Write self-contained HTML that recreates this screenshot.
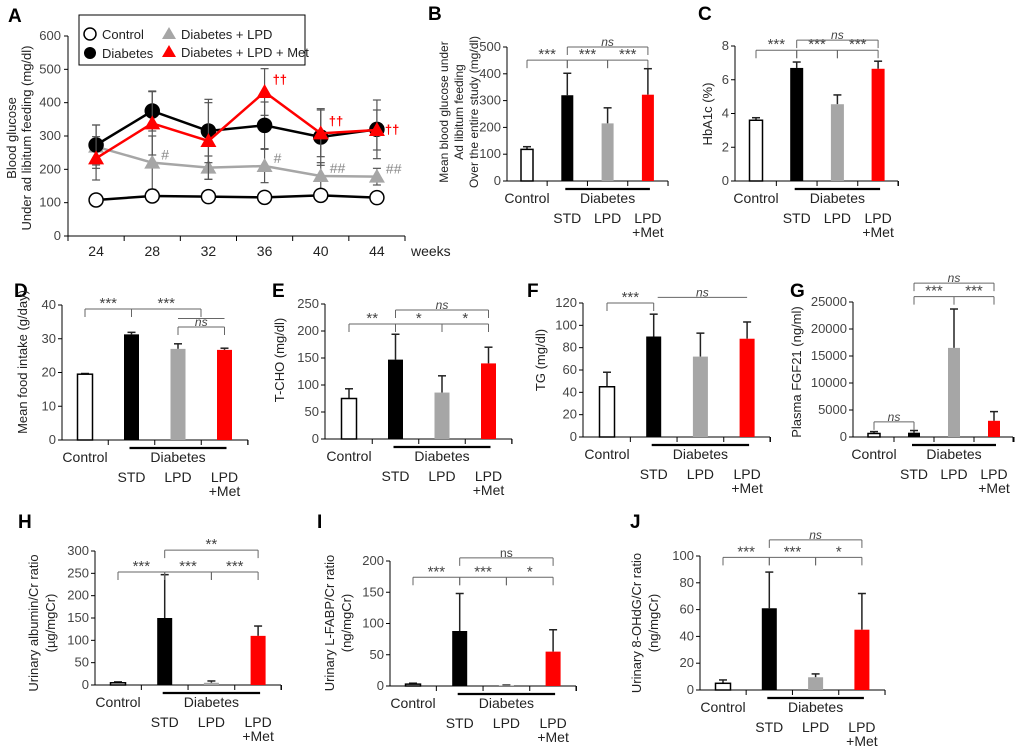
<!DOCTYPE html>
<html><head><meta charset="utf-8"><style>
html,body{margin:0;padding:0;background:#fff}
svg{display:block;font-family:"Liberation Sans",Arial,sans-serif}
</style></head><body>
<svg id="fig" width="1020" height="750" viewBox="0 0 1020 750"></svg>
<script>
// ---- Panel A data ----
const aWeeks=["24","28","32","36","40","44"];
const aTicks=[0,100,200,300,400,500,600];
const aControl=[108,120,118,116,122,115];
const aControlErr=[8,8,8,8,8,8];
const aDiabetes=[273,375,315,332,297,320];
const aDiabetesErr=[60,60,95,70,85,88];
const aLPD=[268,220,205,210,180,178];
const aLPDErr=[65,80,35,50,40,25];
const aMet=[233,338,285,432,308,318];
const aMetErr=[65,95,115,70,70,60];
const aLPDMarks=["","#","","#","##","##"];
const aMetMarks=["","","","††","††","††"];
// ---- Bar panels data ----
const bVals=[118,320,215,322], bErr=[10,82,58,97], bTicks=[0,100,200,300,400,500];
const cVals=[3.6,6.7,4.55,6.65], cErr=[0.15,0.35,0.55,0.45], cTicks=[0,2,4,6,8];
const dVals=[19.5,31.3,27,26.7], dErr=[0.2,0.6,1.5,0.5], dTicks=[0,10,20,30,40];
const eVals=[75,147,86,140], eErr=[18,47,31,30], eTicks=[0,50,100,150,200,250];
const fVals=[45,90,72,88], fErr=[13,20,21,15], fTicks=[0,20,40,60,80,100,120];
const gVals=[650,800,16500,3000], gErr=[350,400,7200,1700], gTicks=[0,5000,10000,15000,20000,25000];
const hVals=[5,150,5,110], hErr=[2,97,4,22], hTicks=[0,50,100,150,200,250,300];
const iVals=[3,88,1,55], iErr=[1.5,60,0.5,35], iTicks=[0,50,100,150,200];
const jVals=[5,61,9.5,45], jErr=[2.5,27,2.5,27], jTicks=[0,20,40,60,80,100];
const groups=["Control","STD","LPD","LPD+Met"];

const NS="http://www.w3.org/2000/svg";
const svg=document.getElementById('fig');
function mk(tag,attrs,parent,text){const e=document.createElementNS(NS,tag);for(const k in attrs)e.setAttribute(k,attrs[k]);if(text!==undefined)e.textContent=text;(parent||svg).appendChild(e);return e;}
function line(g,x1,y1,x2,y2,c,w){return mk('line',{x1,y1,x2,y2,stroke:c||'#000','stroke-width':w||1},g);}
function txt(g,x,y,s,o){o=o||{};return mk('text',{x,y,'font-size':o.fs||13,fill:o.fill||'#222','text-anchor':o.anchor||'middle','font-style':o.it?'italic':'normal','font-weight':o.bold?'bold':'normal',transform:o.rot?`rotate(-90 ${x} ${y})`:''},g,s);}

// ---- Panel A ----
(function(){
  const g=mk('g',{});
  
  
  const ax=68, y0=236, yTop=36, yMax=600, xEnd=405;
  const sy=v=>y0-(v/yMax)*(y0-yTop);
  const step=(xEnd-ax)/6;
  const sx=i=>ax+step*(i+0.5);
  txt(g,8,22,"A",{fs:19,bold:true,anchor:'start',fill:'#000'});
  line(g,ax,yTop,ax,y0);line(g,ax,y0,xEnd,y0);
  aTicks.forEach(t=>{line(g,ax-4,sy(t),ax,sy(t));const l=txt(g,ax-7,sy(t)+4,String(t),{anchor:'end',fill:'#444'});});
  for(let i=0;i<=6;i++)line(g,ax+step*i,y0,ax+step*i,y0+5);
  aWeeks.forEach((w,i)=>{const l=txt(g,sx(i),y0+20,w,{fs:14,fill:'#222'});});
  txt(g,411,y0+20,"weeks",{fs:14,anchor:'start'});
  const yl=txt(g,16,138,"Blood glucose",{fs:13,rot:true});
  
  txt(g,31,138,"Under ad libitum feeding (mg/dl)",{fs:13,rot:true});
  function series(vals,errs,color,lineColor,marker,name){
    const sg=mk('g',{},g);
    
    
    vals.forEach((v,i)=>{const x=sx(i);line(sg,x,sy(v-errs[i]),x,sy(v+errs[i]),'#555',1.2);line(sg,x-4,sy(v+errs[i]),x+4,sy(v+errs[i]),'#555',1.2);line(sg,x-4,sy(v-errs[i]),x+4,sy(v-errs[i]),'#555',1.2);});
    mk('polyline',{points:vals.map((v,i)=>sx(i)+','+sy(v)).join(' '),fill:'none',stroke:lineColor,'stroke-width':2.5},sg);
    vals.forEach((v,i)=>{const x=sx(i),y=sy(v);let m;
      if(marker==='circle')m=mk('circle',{cx:x,cy:y,r:7,fill:color,stroke:'#000','stroke-width':1.5},sg);
      else m=mk('polygon',{points:`${x},${y-8} ${x-8},${y+6} ${x+8},${y+6}`,fill:color},sg);
      });
  }
  series(aLPD,aLPDErr,'#a6a6a6','#a6a6a6','tri','series-diabetes-lpd');
  series(aControl,aControlErr,'#fff','#000','circle','series-control');
  series(aDiabetes,aDiabetesErr,'#000','#000','circle','series-diabetes');
  series(aMet,aMetErr,'#ff0000','#ff0000','tri','series-diabetes-lpd-met');
  aLPDMarks.forEach((s,i)=>{if(s)txt(g,sx(i)+9,sy(aLPD[i])-3,s,{anchor:'start',fs:14,fill:'#888'});});
  aMetMarks.forEach((s,i)=>{if(s)txt(g,sx(i)+8,sy(aMet[i])+(i===5?4:-8),s,{anchor:'start',fs:13,fill:'#ff0000',bold:true});});
  const lg=mk('g',{},g);
  
  
  mk('rect',{x:79,y:15,width:226,height:50,fill:'#fff',stroke:'#000','stroke-width':1},lg);
  mk('circle',{cx:90,cy:34,r:6,fill:'#fff',stroke:'#000','stroke-width':1.5},lg);txt(lg,102,39,"Control",{anchor:'start'});
  mk('circle',{cx:90,cy:53,r:6,fill:'#000'},lg);txt(lg,102,58,"Diabetes",{anchor:'start'});
  mk('polygon',{points:"169,27 162,39 176,39",fill:'#a6a6a6'},lg);txt(lg,181,39,"Diabetes + LPD",{anchor:'start'});
  mk('polygon',{points:"169,45 162,57 176,57",fill:'#ff0000'},lg);txt(lg,181,57,"Diabetes + LPD + Met",{anchor:'start'});
})();

// ---- Bar panel drawer ----
const colors=['#fff','#000','#a6a6a6','#ff0000'];
function barPanel(p){
  const g=mk('g',{});
  
  
  const max=p.ticks[p.ticks.length-1];
  const sy=v=>p.y0-(v/max)*(p.y0-p.yTop);
  const bx=i=>p.ax+p.off+p.sp*i;
  txt(g,p.lx,p.ly,p.letter,{fs:19,bold:true,anchor:'start',fill:'#000'});
  line(g,p.ax,p.yTop,p.ax,p.y0);line(g,p.ax,p.y0,p.xEnd,p.y0);
  p.ticks.forEach(t=>{line(g,p.ax-4,sy(t),p.ax,sy(t));const l=txt(g,p.ax-6,sy(t)+4,String(t),{fill:'#444',anchor:'end'});});
  for(let k=1;k<=4;k++){const x=p.ax+p.off+p.sp*(k-0.5);if(x<=p.xEnd+1)line(g,x,p.y0,x,p.y0+5);}
  line(g,p.xEnd,p.y0,p.xEnd,p.y0+5);
  p.vals.forEach((v,i)=>{const x=bx(i),w=p.bw,e=p.err[i];
    line(g,x,sy(v),x,sy(v+e),'#222',1.5);line(g,x-4,sy(v+e),x+4,sy(v+e),'#222',1.5);
    const r=mk('rect',{x:x-w/2,y:sy(v),width:w,height:p.y0-sy(v),fill:colors[i],stroke:i===0?'#000':'none','stroke-width':1.5},g);
    
    
  });
  txt(g,bx(0),p.y0+22,"Control",{fs:14});
  txt(g,bx(2),p.y0+22,"Diabetes",{fs:14});
  line(g,bx(1)-2,p.y0+8,bx(3)+2,p.y0+8,'#000',2.2);
  txt(g,bx(1),p.y0+42,"STD",{fs:14});txt(g,bx(2),p.y0+42,"LPD",{fs:14});
  txt(g,bx(3),p.y0+42,"LPD",{fs:14});txt(g,bx(3),p.y0+56,"+Met",{fs:14});
  p.ylab.forEach((s,k)=>{const l=txt(g,p.ylx[k],p.lyc,s,{fs:p.yfs||13,rot:true});});
  (p.br||[]).forEach(b=>{const x1=bx(b[0])+(b[4]||0),x2=bx(b[1])+(b[5]||0),y=sy(b[2]);
    const bg=mk('g',{},g);
    
    
    line(bg,x1,y,x2,y,'#666',1);
    if(!b[6]){line(bg,x1,y,x1,y+8,'#666',1);line(bg,x2,y,x2,y+8,'#666',1);}
    txt(bg,(x1+x2)/2,y-1,b[3],{fs:b[3].includes('*')?15:12,it:b[3]==='ns'&&!b[7],fill:'#444'});
  });
}
barPanel({name:'panel-b-mean-glucose',letter:'B',lx:428,ly:20,ax:507,y0:181,yTop:47,xEnd:668,off:20,sp:40.3,bw:12,vals:bVals,err:bErr,ticks:bTicks,yfs:12,
  ylab:["Mean blood glucose under","Ad libitum feeding","Over the entire study (mg/dl)"],ylx:[448,463,478],lyc:112,
  br:[[0,1,451,"***"],[1,2,451,"***"],[2,3,451,"***"],[1,3,500,"ns"]]});
barPanel({name:'panel-c-hba1c',letter:'C',lx:698,ly:20,ax:735,y0:181,yTop:46,xEnd:898,off:21,sp:40.7,bw:13,vals:cVals,err:cErr,ticks:cTicks,
  ylab:["HbA1c (%)"],ylx:[712],lyc:114,
  br:[[0,1,7.75,"***"],[1,2,7.75,"***"],[2,3,7.75,"***"],[1,3,8.35,"ns"]]});
barPanel({name:'panel-d-food-intake',letter:'D',lx:14,ly:297,ax:62,y0:440,yTop:305,xEnd:248,off:23,sp:46.5,bw:15,vals:dVals,err:dErr,ticks:dTicks,
  ylab:["Mean food intake (g/day)"],ylx:[27],lyc:362,
  br:[[0,1,38.8,"***"],[1,2,38.8,"***",0,23],[2,3,36,"",0,0,true],[2,3,33.5,"ns"]]});
barPanel({name:'panel-e-tcho',letter:'E',lx:272,ly:297,ax:325,y0:439,yTop:304,xEnd:512,off:24,sp:46.5,bw:15,vals:eVals,err:eErr,ticks:eTicks,
  ylab:["T-CHO (mg/dl)"],ylx:[284],lyc:360,
  br:[[0,1,213,"**"],[1,2,213,"*"],[2,3,213,"*"],[1,3,239,"ns"]]});
barPanel({name:'panel-f-tg',letter:'F',lx:527,ly:297,ax:583,y0:437,yTop:303,xEnd:770,off:24,sp:46.7,bw:15,vals:fVals,err:fErr,ticks:fTicks,
  ylab:["TG (mg/dl)"],ylx:[545],lyc:360,
  br:[[0,1,120,"***"],[1,3,125,"ns",4,0,true]]});
barPanel({name:'panel-g-fgf21',letter:'G',lx:790,ly:297,ax:853,y0:437,yTop:302,xEnd:1013,off:21,sp:40,bw:12,vals:gVals,err:gErr,ticks:gTicks,
  ylab:["Plasma FGF21 (ng/ml)"],ylx:[801],lyc:372,
  br:[[0,1,2800,"ns"],[1,2,26000,"***"],[2,3,26000,"***"],[1,3,28500,"ns"]]});
barPanel({name:'panel-h-albumin',letter:'H',lx:18,ly:528,ax:95,y0:685,yTop:551,xEnd:281,off:23,sp:46.7,bw:15,vals:hVals,err:hErr,ticks:hTicks,
  ylab:["Urinary albumin/Cr ratio","(µg/mgCr)"],ylx:[38,55],lyc:623,
  br:[[0,1,253,"***"],[1,2,253,"***"],[2,3,253,"***"],[1,3,302,"**"]]});
barPanel({name:'panel-i-lfabp',letter:'I',lx:317,ly:528,ax:390,y0:686,yTop:561,xEnd:576,off:23,sp:46.7,bw:15,vals:iVals,err:iErr,ticks:iTicks,
  ylab:["Urinary L-FABP/Cr ratio","(ng/mgCr)"],ylx:[334,351],lyc:623,
  br:[[0,1,174,"***"],[1,2,174,"***"],[2,3,174,"*"],[1,3,205,"ns",0,0,false,true]]});
barPanel({name:'panel-j-8ohdg',letter:'J',lx:630,ly:528,ax:700,y0:690,yTop:556,xEnd:885,off:23,sp:46.3,bw:15,vals:jVals,err:jErr,ticks:jTicks,
  ylab:["Urinary 8-OHdG/Cr ratio","(ng/mgCr)"],ylx:[641,658],lyc:623,
  br:[[0,1,99,"***"],[1,2,99,"***"],[2,3,99,"*"],[1,3,112,"ns"]]});
</script>
</body></html>
